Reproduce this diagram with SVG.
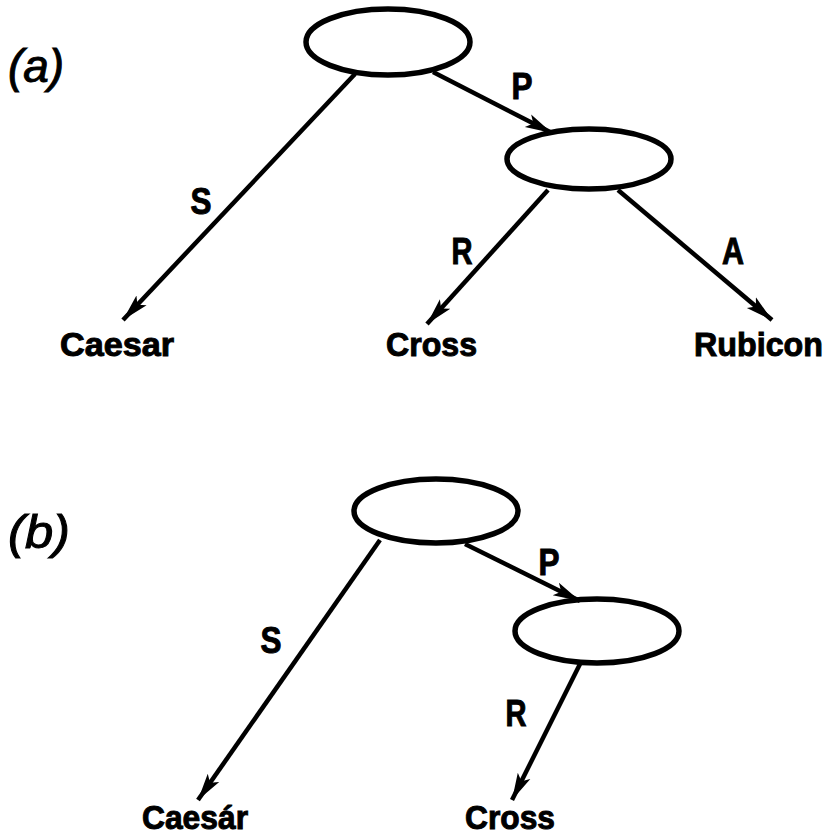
<svg xmlns="http://www.w3.org/2000/svg" width="831" height="837" viewBox="0 0 831 837">
<style>
.node{fill:none;stroke:#000;stroke-width:5.5}
.edge{stroke:#000;stroke-width:4.5;fill:none;marker-end:url(#ah)}
.t{font-family:"Liberation Sans",Arial,sans-serif;font-weight:bold;font-size:34px;fill:#000;stroke:#000;stroke-width:1}
.lbl{font-family:"Liberation Sans",Arial,sans-serif;font-weight:bold;font-size:37px;fill:#000;stroke:#000;stroke-width:1;text-anchor:middle}
.cap{font-family:"Liberation Sans",Arial,sans-serif;font-style:italic;font-size:46px;fill:#000;stroke:#000;stroke-width:1}
</style>
<defs>
<marker id="ah" markerUnits="userSpaceOnUse" markerWidth="30" markerHeight="18" refX="27" refY="9" orient="auto">
<path d="M0,2 L27,9 L0,16 L6,9 Z" fill="#000"/>
</marker>
</defs>
<text class="cap" x="8" y="82" textLength="56" lengthAdjust="spacingAndGlyphs">(a)</text>
<text class="cap" x="8" y="548" textLength="62" lengthAdjust="spacingAndGlyphs">(b)</text>
<g id="edges">
<line class="edge" x1="355" y1="74" x2="123" y2="320"/>
<line class="edge" x1="433" y1="72" x2="552" y2="133"/>
<line class="edge" x1="548" y1="190" x2="427" y2="324"/>
<line class="edge" x1="618" y1="190" x2="772" y2="320"/>
<line class="edge" x1="380" y1="540" x2="198" y2="800"/>
<line class="edge" x1="465" y1="544" x2="580" y2="601"/>
<line class="edge" x1="580" y1="664" x2="512" y2="800"/>
</g>
<g id="edge-labels">
<text class="lbl" x="201" y="214" textLength="21" lengthAdjust="spacingAndGlyphs">S</text>
<text class="lbl" x="522" y="99" textLength="21" lengthAdjust="spacingAndGlyphs">P</text>
<text class="lbl" x="462" y="264" textLength="21" lengthAdjust="spacingAndGlyphs">R</text>
<text class="lbl" x="733" y="264" textLength="22" lengthAdjust="spacingAndGlyphs">A</text>
<text class="lbl" x="271" y="653" textLength="21" lengthAdjust="spacingAndGlyphs">S</text>
<text class="lbl" x="549" y="575" textLength="21" lengthAdjust="spacingAndGlyphs">P</text>
<text class="lbl" x="516" y="726" textLength="21" lengthAdjust="spacingAndGlyphs">R</text>
</g>
<g id="a-root"><ellipse class="node" cx="388" cy="42" rx="82" ry="33"/></g>
<g id="a-pred"><ellipse class="node" cx="589" cy="159" rx="82" ry="30"/></g>
<g id="a-caesar"><text class="t" x="60" y="356" textLength="114" lengthAdjust="spacingAndGlyphs">Caesar</text></g>
<g id="a-cross"><text class="t" x="386" y="356" textLength="91" lengthAdjust="spacingAndGlyphs">Cross</text></g>
<g id="a-rubicon"><text class="t" x="694" y="356" textLength="129" lengthAdjust="spacingAndGlyphs">Rubicon</text></g>
<g id="b-root"><ellipse class="node" cx="436" cy="511" rx="82" ry="32"/></g>
<g id="b-pred"><ellipse class="node" cx="597" cy="631" rx="82" ry="32"/></g>
<g id="b-caesar"><text class="t" x="142" y="829" textLength="106" lengthAdjust="spacingAndGlyphs">Caesár</text></g>
<g id="b-cross"><text class="t" x="465" y="829" textLength="90" lengthAdjust="spacingAndGlyphs">Cross</text></g>
</svg>
